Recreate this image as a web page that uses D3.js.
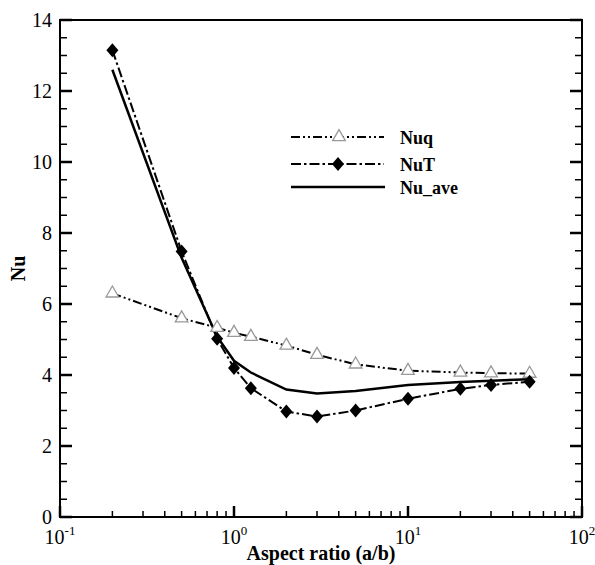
<!DOCTYPE html>
<html>
<head>
<meta charset="utf-8">
<script src="https://cdn.jsdelivr.net/npm/d3@7"></script>
<style>
  body { margin: 0; background: #fff; }
  text { font-family: "Liberation Serif", "DejaVu Serif", serif; }
</style>
</head>
<body>
<div id="chart"></div>
<script>
// data
const aspect = [0.2, 0.5, 0.8, 1, 1.25, 2, 3, 5, 10, 20, 30, 50];
const nuq    = [6.3, 5.6, 5.33, 5.19, 5.08, 4.83, 4.57, 4.3, 4.12, 4.07, 4.05, 4.04];
const nuT    = [13.15, 7.48, 5.02, 4.2, 3.63, 2.97, 2.83, 3.0, 3.33, 3.61, 3.72, 3.81];
const nuAve  = [12.6, 7.3, 5.08, 4.4, 4.07, 3.59, 3.48, 3.55, 3.72, 3.8, 3.84, 3.88];
const yTicks = [0, 2, 4, 6, 8, 10, 12, 14];
const xTicks = [0.1, 1, 10, 100];
const xTickExp = ["-1", "0", "1", "2"];
const seriesNames = ["Nuq", "NuT", "Nu_ave"];

let wSvg = 595, hSvg = 565;
let padL = 60, padR = 582, padT = 20, padB = 517;

let svg = d3.select("#chart").append("svg")
    .attr("width", wSvg).attr("height", hSvg);

const x = d3.scaleLog().domain([0.1, 100]).range([padL, padR]);
const y = d3.scaleLinear().domain([0, 14]).range([padB, padT]);

// minor ticks
let yMinor = d3.range(0, 14.01, 0.5).filter(v => v % 2 !== 0);
let xMinor = [];
for (let d of [0.1, 1, 10]) {
    for (let k = 2; k <= 9; k++) xMinor.push(d * k);
}

let ticks = svg.append("g").attr("stroke", "#000").attr("stroke-width", 1.5);

// left axis ticks
ticks.selectAll(".yl").data(yTicks).enter().append("line")
    .attr("x1", padL).attr("x2", padL + 12)
    .attr("y1", d => y(d)).attr("y2", d => y(d)).attr("stroke-width", 2.5);
ticks.selectAll(".ylm").data(yMinor).enter().append("line")
    .attr("x1", padL).attr("x2", padL + 7)
    .attr("y1", d => y(d)).attr("y2", d => y(d));
// right axis ticks
ticks.selectAll(".yr").data(yTicks).enter().append("line")
    .attr("x1", padR).attr("x2", padR - 12)
    .attr("y1", d => y(d)).attr("y2", d => y(d)).attr("stroke-width", 2.5);
ticks.selectAll(".yrm").data(yMinor).enter().append("line")
    .attr("x1", padR).attr("x2", padR - 7)
    .attr("y1", d => y(d)).attr("y2", d => y(d));
// bottom axis ticks
ticks.selectAll(".xb").data(xTicks).enter().append("line")
    .attr("x1", d => x(d)).attr("x2", d => x(d))
    .attr("y1", padB).attr("y2", padB - 11).attr("stroke-width", 2.5);
ticks.selectAll(".xbm").data(xMinor).enter().append("line")
    .attr("x1", d => x(d)).attr("x2", d => x(d))
    .attr("y1", padB).attr("y2", padB - 6);

// frame
svg.append("rect")
    .attr("x", padL).attr("y", padT)
    .attr("width", padR - padL).attr("height", padB - padT)
    .attr("fill", "none").attr("stroke", "#000").attr("stroke-width", 2);

// tick labels
svg.selectAll(".ylab").data(yTicks).enter().append("text")
    .attr("x", padL - 8).attr("y", d => y(d) + 7)
    .attr("text-anchor", "end")
    .attr("font-size", 20)
    .text(d => d);

let xl = svg.selectAll(".xlab").data(xTicks).enter().append("text")
    .attr("x", d => x(d)).attr("y", 544)
    .attr("text-anchor", "middle")
    .attr("font-size", 20);
xl.append("tspan").text("10");
xl.append("tspan").attr("dy", -9).attr("font-size", 13)
    .text((d, i) => xTickExp[i]);

// axis titles
svg.append("text")
    .attr("x", (padL + padR) / 2).attr("y", 560)
    .attr("text-anchor", "middle")
    .attr("font-size", 20).attr("font-weight", "bold")
    .text("Aspect ratio (a/b)");

svg.append("text")
    .attr("transform", `translate(25, ${(padT + padB) / 2}) rotate(-90)`)
    .attr("text-anchor", "middle")
    .attr("font-size", 20).attr("font-weight", "bold")
    .text("Nu");

// lines
const line = d3.line()
    .x(d => x(d[0]))
    .y(d => y(d[1]));

const dashQ = "9,3,2,3,2,3";
const dashT = "10,3,2.5,3";

svg.append("path")
    .datum(aspect.map((a, i) => [a, nuq[i]]))
    .attr("d", line).attr("fill", "none")
    .attr("stroke", "#000").attr("stroke-width", 2)
    .attr("stroke-dasharray", dashQ);

svg.append("path")
    .datum(aspect.map((a, i) => [a, nuT[i]]))
    .attr("d", line).attr("fill", "none")
    .attr("stroke", "#000").attr("stroke-width", 2)
    .attr("stroke-dasharray", dashT);

svg.append("path")
    .datum(aspect.map((a, i) => [a, nuAve[i]]))
    .attr("d", line).attr("fill", "none")
    .attr("stroke", "#000").attr("stroke-width", 2.5);

// markers
const triangle = d3.symbol().type(d3.symbolTriangle).size(70);
const diamond = "M0,-7L6,0L0,7L-6,0Z";

svg.selectAll(".tri").data(aspect).enter().append("path")
    .attr("d", triangle)
    .attr("transform", (d, i) => `translate(${x(d)}, ${y(nuq[i])})`)
    .attr("fill", "#fff").attr("stroke", "#999").attr("stroke-width", 1.3);

svg.selectAll(".dia").data(aspect).enter().append("path")
    .attr("d", diamond)
    .attr("transform", (d, i) => `translate(${x(d)}, ${y(nuT[i])})`)
    .attr("fill", "#000");

// legend
let legY = [137, 164, 187];
let leg = svg.append("g");
leg.append("line").attr("x1", 291).attr("x2", 384)
    .attr("y1", legY[0]).attr("y2", legY[0])
    .attr("stroke", "#000").attr("stroke-width", 2).attr("stroke-dasharray", dashQ);
leg.append("path").attr("d", triangle)
    .attr("transform", `translate(339, ${legY[0]})`)
    .attr("fill", "#fff").attr("stroke", "#999").attr("stroke-width", 1.3);
leg.append("line").attr("x1", 291).attr("x2", 384)
    .attr("y1", legY[1]).attr("y2", legY[1])
    .attr("stroke", "#000").attr("stroke-width", 2).attr("stroke-dasharray", dashT);
leg.append("path").attr("d", diamond)
    .attr("transform", `translate(338, ${legY[1]})`)
    .attr("fill", "#000");
leg.append("line").attr("x1", 291).attr("x2", 385)
    .attr("y1", legY[2]).attr("y2", legY[2])
    .attr("stroke", "#000").attr("stroke-width", 2.5);

leg.selectAll(".lt").data(seriesNames).enter().append("text")
    .attr("x", 400).attr("y", (d, i) => legY[i] + 7)
    .attr("font-size", 18).attr("font-weight", "bold")
    .text(d => d);
</script>
</body>
</html>
